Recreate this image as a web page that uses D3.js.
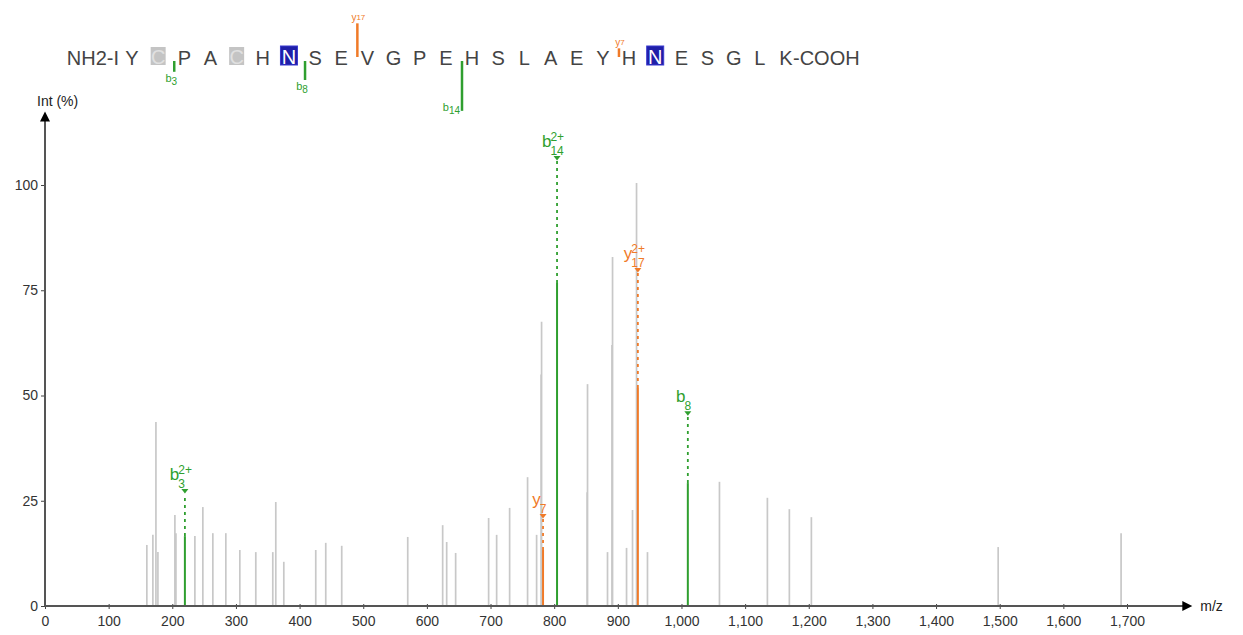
<!DOCTYPE html>
<html><head><meta charset="utf-8">
<script src="https://cdn.jsdelivr.net/npm/d3@7"></script>
<style>body{margin:0;background:#fff}svg{display:block;font-family:"Liberation Sans",Arial,sans-serif}</style>
</head><body><svg id="c" width="1243" height="635"></svg>
<script>
// ---------- data ----------
const sequence = ["I","Y","C","P","A","C","H","N","S","E","V","G","P","E","H","S","L","A","E","Y","H","N","E","S","G","L","K"];
const greyBoxed = [3,6];      // residues shown in grey boxes (1-based)
const blueBoxed = [8,22];     // residues shown in blue boxes
// unassigned peaks: m/z and relative intensity (%)
const peakMz  = [160,169.5,174.3,177.4,204.1,205.7,235.5,248,263.7,284.1,306.1,331.2,357.9,362.6,375.2,425.4,441.1,466.2,569.9,624.8,631.1,645.2,697,709.6,730,758.2,772.4,780.2,779.5,852.4,851.8,883.8,891.7,890.8,913.7,923.1,929.4,946.6,1059.7,1135,1169.5,1204.1,1497.6,1690.7];
const peakInt = [14.5,16.9,43.7,12.8,21.6,17.3,16.6,23.5,17.3,17.3,13.3,12.8,12.8,24.7,10.5,13.3,15,14.3,16.4,19.2,15.2,12.6,20.9,16.9,23.3,30.6,16.9,67.5,55,52.7,27,12.8,82.9,62,13.8,22.8,100.5,12.8,29.5,25.7,23,21.1,14,17.3];
// annotated fragment ions
const ionType   = ["b","b","b","y","y"];
const ionNumber = [3,14,8,7,17];
const ionCharge = [2,2,1,1,2];
const ionMz     = [219.8,804.5,1010,782.5,931.5];
const ionInt    = [16.6,76.7,29.2,13.3,51.8];
const ionLabelAt= [27.3,106.4,45.8,21.4,79.8];   // label level (%)
// fragments marked on the sequence (ion type, number, intensity)
const seqFragType = ["b","b","b","y","y"];
const seqFragNum  = [3,8,14,17,7];
const seqFragInt  = [16.6,29.2,76.7,51.8,13.3];
const xTicks = d3.range(0,1701,100);
const yTicks = [0,25,50,75,100];

// ---------- drawing ----------
const svg = d3.select("#c");
const GREEN = "#2f9f2f", ORANGE = "#f07a28", GREY = "#c8c8c8";
const x = d3.scaleLinear().domain([0,1700]).range([45,1127]);
const y = d3.scaleLinear().domain([0,100]).range([606,185]);
const col = t => t==="b" ? GREEN : ORANGE;

// grey peaks
svg.append("g").selectAll("line").data(peakMz.map((m,i)=>({m,v:peakInt[i]}))).join("line")
  .attr("x1",d=>x(d.m)).attr("x2",d=>x(d.m)).attr("y1",y(0)).attr("y2",d=>y(d.v))
  .attr("stroke",GREY).attr("stroke-width",1.7);

// annotated peaks
const ions = ionMz.map((m,i)=>({m,v:ionInt[i],t:ionType[i],n:ionNumber[i],z:ionCharge[i],l:ionLabelAt[i]}));
const ig = svg.append("g");
ions.forEach(d=>{
  const px = x(d.m), c = col(d.t);
  ig.append("line").attr("x1",px).attr("x2",px).attr("y1",y(0)).attr("y2",y(d.v))
    .attr("stroke",c).attr("stroke-width",2);
  ig.append("line").attr("x1",px).attr("x2",px).attr("y1",y(d.v)).attr("y2",y(d.l)+3)
    .attr("stroke",c).attr("stroke-width",1.8).attr("stroke-dasharray","3,4");
  const ty = y(d.l);
  ig.append("path").attr("d",`M${px-3.5},${ty-2}L${px+3.5},${ty-2}L${px},${ty+2.5}Z`).attr("fill",c);
  const sub = String(d.n), sup = d.z>1 ? d.z+"+" : "";
  const w = Math.max(sub.length, sup.length)*6.6;
  const lx = px - w/2;
  ig.append("text").attr("x",lx+1).attr("y",ty-11).attr("text-anchor","end")
    .attr("font-size",17).attr("fill",c).text(d.t);
  ig.append("text").attr("x",lx).attr("y",ty-3).attr("font-size",12).attr("fill",c).text(sub);
  if(sup) ig.append("text").attr("x",lx).attr("y",ty-17).attr("font-size",12).attr("fill",c).text(sup);
});

// axes
const ax = svg.append("g").attr("transform",`translate(0,${y(0)})`)
  .call(d3.axisBottom(x).tickValues(xTicks).tickFormat(d3.format(",")).tickSize(4).tickSizeOuter(0));
ax.select(".domain").remove();
ax.selectAll(".tick line").attr("stroke","#444").attr("y1",-2).attr("y2",3);
ax.selectAll(".tick text").attr("font-size",14).attr("fill","#333").attr("dy","0.95em")
  .attr("font-family","Liberation Sans, Arial, sans-serif");
const ay = svg.append("g").attr("transform",`translate(${x(0)},0)`)
  .call(d3.axisLeft(y).tickValues(yTicks).tickSize(4).tickSizeOuter(0));
ay.select(".domain").remove();
ay.selectAll(".tick line").attr("stroke","#444");
ay.selectAll(".tick text").attr("font-size",14).attr("fill","#333").attr("x",-7)
  .attr("font-family","Liberation Sans, Arial, sans-serif");
const xEnd = x(1790), yTop = y(117);
svg.append("line").attr("x1",x(0)).attr("x2",xEnd).attr("y1",y(0)).attr("y2",y(0)).attr("stroke","#555").attr("stroke-width",2);
svg.append("line").attr("x1",x(0)).attr("x2",x(0)).attr("y1",y(0)).attr("y2",yTop+4).attr("stroke","#555").attr("stroke-width",2);
svg.append("path").attr("d",`M${xEnd-2},${y(0)-5}L${xEnd+8},${y(0)}L${xEnd-2},${y(0)+5}Z`).attr("fill","#000");
svg.append("path").attr("d",`M${x(0)-5},${yTop+8}L${x(0)},${yTop-2}L${x(0)+5},${yTop+8}Z`).attr("fill","#000");
svg.append("text").attr("x",xEnd+16).attr("y",y(0)+5).attr("font-size",14).attr("fill","#222").text("m/z");
svg.append("text").attr("x",37).attr("y",106).attr("font-size",14).attr("fill","#222").text("Int (%)");

// sequence header
const sx = d3.scaleLinear().domain([2,27]).range([132,786]);
const hy = 65;
const hg = svg.append("g");
hg.append("text").attr("x",119).attr("y",hy).attr("text-anchor","end").attr("font-size",20).attr("fill","#444").text("NH2-I");
sequence.forEach((r,i)=>{
  const k=i+1; if(k===1) return;
  const cx = sx(k);
  if(greyBoxed.includes(k)){
    hg.append("rect").attr("x",cx-7.5).attr("y",hy-18).attr("width",15).attr("height",18).attr("fill","#c4c4c4");
    hg.append("text").attr("x",cx).attr("y",hy-1).attr("text-anchor","middle").attr("font-size",20).attr("fill","#e0e0e0").text(r);
  } else if(blueBoxed.includes(k)){
    hg.append("rect").attr("x",cx-8.5).attr("y",hy-19).attr("width",17).attr("height",19).attr("fill","#1f1fa8").attr("stroke","#3a3ad0");
    hg.append("text").attr("x",cx).attr("y",hy-1).attr("text-anchor","middle").attr("font-size",20).attr("fill","#ffffff").text(r);
  } else {
    hg.append("text").attr("x",cx).attr("y",hy).attr("text-anchor","middle").attr("font-size",20).attr("fill","#444").text(r);
  }
});
hg.append("text").attr("x",sx(27)+7).attr("y",hy).attr("font-size",20).attr("fill","#444").text("-COOH");
const len = d3.scaleLinear().domain([0,100]).range([0,65]);
seqFragType.forEach((t,i)=>{
  const n = seqFragNum[i];
  const after = t==="b" ? n : sequence.length - n;
  const cx = (sx(after)+sx(after+1))/2 + 3;
  const L = len(seqFragInt[i]);
  const c = col(t);
  if(t==="b"){
    hg.append("line").attr("x1",cx).attr("x2",cx).attr("y1",hy-4).attr("y2",hy-4+L).attr("stroke",c).attr("stroke-width",2.5);
    const ly = hy-4+L+ (n>=14 ? 0 : 10);
    const lx = n>=14 ? cx-2 : cx-3;
    const g = hg.append("text").attr("x",lx).attr("y",ly).attr("text-anchor", n>=14 ? "end":"middle")
      .attr("font-size",11).attr("fill",c);
    g.append("tspan").text("b"); g.append("tspan").attr("font-size",10).attr("dy",3).text(n);
  } else {
    hg.append("line").attr("x1",cx).attr("x2",cx).attr("y1",hy-8).attr("y2",hy-8-L).attr("stroke",c).attr("stroke-width",2.5);
    const g = hg.append("text").attr("x",cx+1).attr("y",hy-8-L-2).attr("text-anchor","middle")
      .attr("font-size",10).attr("fill",c);
    g.append("tspan").text("y"); g.append("tspan").attr("font-size",8).attr("dy",-1).text(n);
  }
});
</script></body></html>
